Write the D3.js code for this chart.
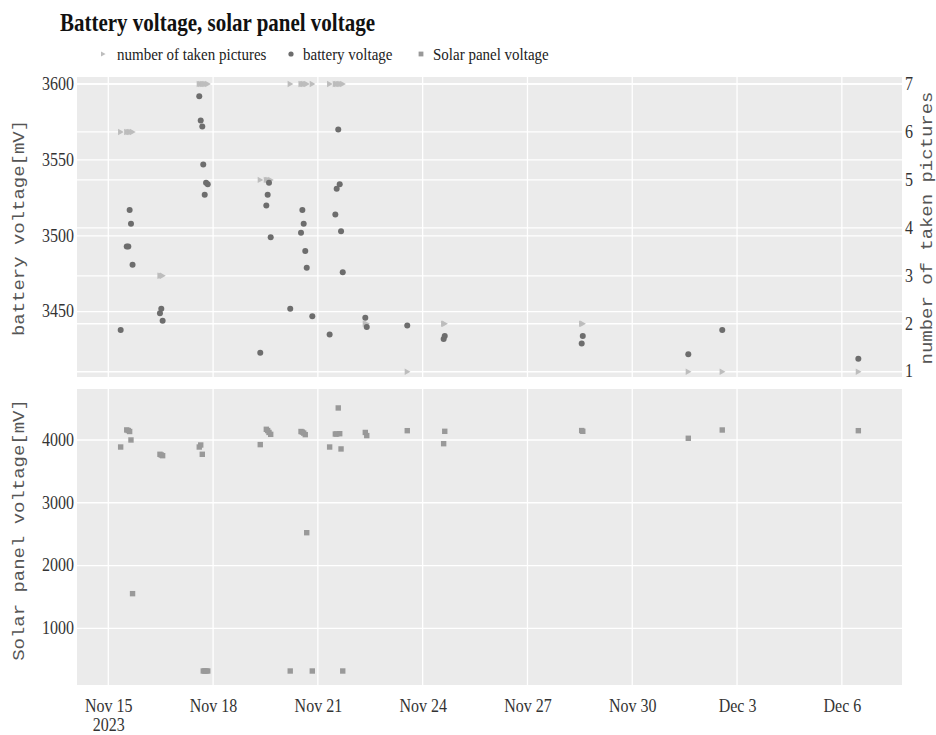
<!DOCTYPE html>
<html>
<head>
<meta charset="utf-8">
<script src="https://cdn.jsdelivr.net/npm/d3@7"></script>
<style>
  html, body { margin: 0; padding: 0; background: #fff; }
  svg { display: block; }
</style>
</head>
<body>
<svg id="chart" width="936" height="735"></svg>
<script>
// Logged readings of the camera station: time, battery, solar panel, pictures taken
const timestamps = [
  "2023-11-15 08:30", "2023-11-15 12:40", "2023-11-15 13:45", "2023-11-15 14:40", "2023-11-15 15:35", "2023-11-15 16:40",
  "2023-11-16 11:30", "2023-11-16 12:25", "2023-11-16 13:20",
  "2023-11-17 14:30", "2023-11-17 15:30", "2023-11-17 16:35", "2023-11-17 17:15", "2023-11-17 18:15", "2023-11-17 19:10", "2023-11-17 20:20",
  "2023-11-19 08:25", "2023-11-19 12:35", "2023-11-19 13:30", "2023-11-19 14:25", "2023-11-19 15:35",
  "2023-11-20 05:00", "2023-11-20 12:25", "2023-11-20 13:20", "2023-11-20 14:15", "2023-11-20 15:20", "2023-11-20 16:20", "2023-11-20 20:10",
  "2023-11-21 08:05", "2023-11-21 12:00", "2023-11-21 12:55", "2023-11-21 14:00", "2023-11-21 15:00", "2023-11-21 15:55", "2023-11-21 17:05",
  "2023-11-22 08:35", "2023-11-22 09:35",
  "2023-11-23 13:25",
  "2023-11-24 14:25", "2023-11-24 15:10",
  "2023-11-28 13:15", "2023-11-28 14:00",
  "2023-12-01 14:30",
  "2023-12-02 13:50",
  "2023-12-06 11:20"
];
const batteryMv = [
  3438, 3493, 3493, 3517, 3508, 3481,
  3449, 3452, 3444,
  3592, 3576, 3572, 3547, 3527, 3535, 3534,
  3423, 3520, 3527, 3535, 3499,
  3452, 3502, 3517, 3508, 3490, 3479, 3447,
  3435, 3514, 3531, 3570, 3534, 3503, 3476,
  3446, 3440,
  3441,
  3432, 3434,
  3429, 3434,
  3422,
  3438,
  3419
];
const solarMv = [
  3888, 4160, 4150, 4135, 4000, 1552,
  3772, 3760, 3750,
  3888, 3920, 3772, 320, 320, 320, 320,
  3926, 4170, 4150, 4120, 4090,
  320, 4135, 4125, 4110, 4085, 2523, 320,
  3888, 4095, 4095, 4510, 4100, 3857, 320,
  4120, 4070,
  4148,
  3941, 4138,
  4150, 4138,
  4027,
  4159,
  4148
];
const pictureCounts = [
  6, 6, 6, 6, 6, 6,
  3, 3, 3,
  7, 7, 7, 7, 7, 7, 7,
  5, 5, 5, 5, 5,
  7, 7, 7, 7, 7, 7, 7,
  7, 7, 7, 7, 7, 7, 7,
  2, 2,
  1,
  2, 2,
  2, 2,
  1,
  1,
  1
];
const xTickDates = ["2023-11-15", "2023-11-18", "2023-11-21", "2023-11-24", "2023-11-27", "2023-11-30", "2023-12-03", "2023-12-06"];
const batteryTicks = [3450, 3500, 3550, 3600];
const pictureTicks = [1, 2, 3, 4, 5, 6, 7];
const solarTicks = [1000, 2000, 3000, 4000];
const seriesNames = ["number of taken pictures", "battery voltage", "Solar panel voltage"];
const titleText = "Battery voltage, solar panel voltage";

const parseTime = d3.timeParse("%Y-%m-%d %H:%M");
const parseDay = d3.timeParse("%Y-%m-%d");
const rows = timestamps.map((t, i) => ({
  t: parseTime(t), battery: batteryMv[i], solar: solarMv[i], pics: pictureCounts[i]
}));

const plotLeft = 77, plotRight = 902;
const topPanel = { y0: 77, y1: 377 };
const botPanel = { y0: 389, y1: 685 };
const S = 1.17; // vertical stretch of the lettering

const colors = { pics: "#bdbdbd", battery: "#6d6d6d", solar: "#999999", bg: "#ebebeb" };
const serif = "'Liberation Serif', 'Times New Roman', serif";
const mono = "'Liberation Mono', 'Courier New', monospace";

const svg = d3.select("#chart");

const x = d3.scaleTime()
  .domain([new Date(2023, 10, 14, 2, 30), new Date(2023, 11, 7, 17, 20)])
  .range([plotLeft, plotRight]);
const yBat = d3.scaleLinear().domain([3407, 3604.6]).range([topPanel.y1, topPanel.y0]);
const yPic = d3.scaleLinear().domain([0.89, 7.146]).range([topPanel.y1, topPanel.y0]);
const ySol = d3.scaleLinear().domain([97, 4812]).range([botPanel.y1, botPanel.y0]);

// panel backgrounds
[topPanel, botPanel].forEach(p => {
  svg.append("rect")
    .attr("x", plotLeft).attr("y", p.y0)
    .attr("width", plotRight - plotLeft).attr("height", p.y1 - p.y0)
    .attr("fill", colors.bg);
});

const xTicks = xTickDates.map(parseDay);
const grid = svg.append("g").attr("stroke", "#fff").attr("stroke-width", 1.3);

// vertical grid lines in both panels
[topPanel, botPanel].forEach(p => {
  grid.selectAll(null).data(xTicks).enter().append("line")
    .attr("x1", d => x(d)).attr("x2", d => x(d))
    .attr("y1", p.y0).attr("y2", p.y1);
});
// horizontal grid lines
function hGrid(ticks, scale) {
  grid.selectAll(null).data(ticks).enter().append("line")
    .attr("x1", plotLeft).attr("x2", plotRight)
    .attr("y1", d => scale(d)).attr("y2", d => scale(d));
}
hGrid(batteryTicks, yBat);
hGrid(pictureTicks, yPic);
hGrid(solarTicks, ySol);

// markers
const triRight = "M-2.6,-3.2L3.2,0L-2.6,3.2Z";
const topMarks = svg.append("g");
topMarks.selectAll("path.pic").data(rows).enter().append("path")
  .attr("class", "pic")
  .attr("d", triRight)
  .attr("transform", d => `translate(${x(d.t)},${yPic(d.pics)})`)
  .attr("fill", colors.pics);
topMarks.selectAll("circle.bat").data(rows).enter().append("circle")
  .attr("class", "bat")
  .attr("cx", d => x(d.t)).attr("cy", d => yBat(d.battery))
  .attr("r", 3)
  .attr("fill", colors.battery);
const sq = 5.4;
svg.append("g").selectAll("rect").data(rows).enter().append("rect")
  .attr("x", d => x(d.t) - sq / 2).attr("y", d => ySol(d.solar) - sq / 2)
  .attr("width", sq).attr("height", sq)
  .attr("fill", colors.solar);

// axes (labels only, no domain lines or tick marks)
function styleAxis(g, anchor) {
  g.select(".domain").remove();
  g.selectAll(".tick line").remove();
  g.selectAll(".tick text")
    .attr("font-family", serif).attr("font-size", 16).attr("fill", "#333")
    .attr("text-anchor", anchor);
}
const leftTop = svg.append("g").attr("transform", `translate(${plotLeft},0)`)
  .call(d3.axisLeft(yBat).tickValues(batteryTicks).tickSize(0).tickPadding(3).tickFormat(d3.format("d")));
styleAxis(leftTop, "end");
const leftBot = svg.append("g").attr("transform", `translate(${plotLeft},0)`)
  .call(d3.axisLeft(ySol).tickValues(solarTicks).tickSize(0).tickPadding(3).tickFormat(d3.format("d")));
styleAxis(leftBot, "end");
const rightTop = svg.append("g").attr("transform", `translate(${plotRight},0)`)
  .call(d3.axisRight(yPic).tickValues(pictureTicks).tickSize(0).tickPadding(3).tickFormat(d3.format("d")));
styleAxis(rightTop, "start");
[leftTop, leftBot, rightTop].forEach(g =>
  g.selectAll(".tick text").attr("transform", `scale(1,${S})`).attr("dy", "0.28em"));

const fmtMonthDay = d3.timeFormat("%b %-d");
const xAxis = svg.append("g").attr("transform", `translate(0,${botPanel.y1})`)
  .call(d3.axisBottom(x).tickValues(xTicks).tickSize(0).tickPadding(0).tickFormat(() => ""));
styleAxis(xAxis, "middle");
xAxis.selectAll(".tick text").each(function (d, i) {
  const t = d3.select(this).attr("y", null).attr("dy", null)
    .attr("transform", `translate(0,26.5) scale(1,${S})`);
  t.append("tspan").attr("x", 0).attr("y", 0).text(fmtMonthDay(d));
  if (i === 0) t.append("tspan").attr("x", 0).attr("y", 17).text(d3.timeFormat("%Y")(d));
});

// axis titles
function vTitle(txt, cx, cy) {
  svg.append("text")
    .attr("transform", `translate(${cx},${cy}) rotate(-90) scale(${S},1)`)
    .attr("text-anchor", "middle").attr("dy", "0.32em")
    .attr("font-family", mono).attr("font-size", 16.2).attr("fill", "#555")
    .text(txt);
}
vTitle("battery voltage[mV]", 19, 228);
vTitle("Solar panel voltage[mV]", 19, 530);
vTitle("number of taken pictures", 926.5, 228);

// title
svg.append("text")
  .attr("transform", `translate(60,31) scale(1,${S})`)
  .attr("font-family", serif).attr("font-weight", "bold").attr("font-size", 21).attr("fill", "#111")
  .text(titleText);

// legend
const legendItems = [
  { name: seriesNames[0], mx: 103, tx: 117, kind: "pic" },
  { name: seriesNames[1], mx: 291, tx: 303, kind: "bat" },
  { name: seriesNames[2], mx: 421, tx: 433, kind: "sol" }
];
const legY = 54;
const leg = svg.append("g");
legendItems.forEach(it => {
  if (it.kind === "pic") {
    leg.append("path").attr("d", "M-2,-2.6L2.6,0L-2,2.6Z")
      .attr("transform", `translate(${it.mx},${legY})`).attr("fill", colors.pics);
  } else if (it.kind === "bat") {
    leg.append("circle").attr("cx", it.mx).attr("cy", legY).attr("r", 2.6).attr("fill", colors.battery);
  } else {
    leg.append("rect").attr("x", it.mx - 2.4).attr("y", legY - 2.4).attr("width", 4.8).attr("height", 4.8)
      .attr("fill", colors.solar);
  }
  leg.append("text")
    .attr("transform", `translate(${it.tx},${legY}) scale(1,${S})`)
    .attr("dy", "0.32em")
    .attr("font-family", serif).attr("font-size", 15).attr("fill", "#222")
    .text(it.name);
});
</script>
</body>
</html>
